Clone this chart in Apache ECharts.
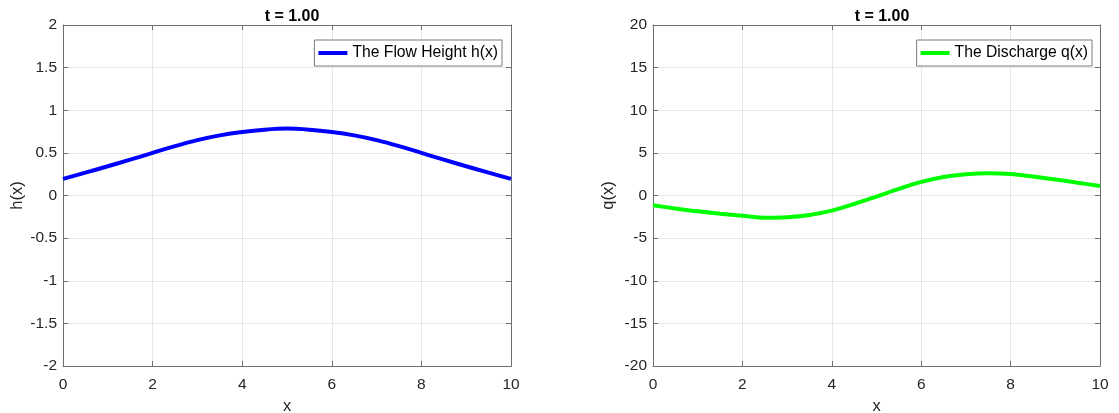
<!DOCTYPE html>
<html>
<head>
<meta charset="utf-8">
<title>t = 1.00</title>
<script src="https://cdn.jsdelivr.net/npm/echarts@6/dist/echarts.min.js"></script>
<style>
    html, body {
        margin: 0;
        padding: 0;
        background: #fff;
    }
    #chart {
        width: 1119px;
        height: 413px;
    }
</style>
</head>
<body>
<div id="chart"></div>
<script>
// sample positions along x (every 0.5)
var xs = [0, 0.5, 1, 1.5, 2, 2.5, 3, 3.5, 4, 4.5, 5, 5.5, 6, 6.5, 7, 7.5, 8, 8.5, 9, 9.5, 10];

// flow height h(x)
var hValues = [0.195, 0.268, 0.343, 0.42, 0.5, 0.58, 0.65, 0.705, 0.745, 0.772, 0.785,
    0.772, 0.745, 0.705, 0.65, 0.58, 0.5, 0.42, 0.343, 0.268, 0.195];

// discharge q(x)
var qValues = [-1.15, -1.52, -1.86, -2.14, -2.38, -2.6, -2.55, -2.28, -1.78, -1.0, -0.12,
    0.78, 1.6, 2.18, 2.5, 2.62, 2.52, 2.22, 1.88, 1.5, 1.12];

var titleText = "t = 1.00";
var hName = "The Flow Height h(x)";
var qName = "The Discharge q(x)";

function pairs(ys) {
    return xs.map(function (x, i) {
        return [x, ys[i]];
    });
}

var font = "'Liberation Sans', Arial, Helvetica, sans-serif";
var textColor = "#262626";
var boxColor = "#6e6e6e";
var gridColor = "#e6e6e6";

function xAxisPair(gridIndex) {
    return [
        {
            type: "value",
            gridIndex: gridIndex,
            min: 0,
            max: 10,
            interval: 2,
            name: "x",
            nameLocation: "middle",
            nameGap: 32,
            nameTextStyle: { color: textColor, fontSize: 16.5, fontFamily: font },
            axisLine: { show: true, onZero: false, lineStyle: { color: boxColor, width: 1 } },
            axisTick: { show: true, inside: true, length: 5, lineStyle: { color: boxColor } },
            axisLabel: { color: textColor, fontSize: 15.5, fontFamily: font, margin: 11 },
            splitLine: { show: true, lineStyle: { color: gridColor, width: 1 } }
        },
        {
            type: "value",
            gridIndex: gridIndex,
            position: "top",
            min: 0,
            max: 10,
            interval: 2,
            axisLine: { show: true, onZero: false, lineStyle: { color: boxColor, width: 1 } },
            axisTick: { show: true, inside: true, length: 5, lineStyle: { color: boxColor } },
            axisLabel: { show: false },
            splitLine: { show: false }
        }
    ];
}

function yAxisPair(gridIndex, name, min, max, step) {
    return [
        {
            type: "value",
            gridIndex: gridIndex,
            min: min,
            max: max,
            interval: step,
            name: name,
            nameLocation: "middle",
            nameGap: 36,
            nameTextStyle: { color: textColor, fontSize: 16.5, fontFamily: font },
            axisLine: { show: true, onZero: false, lineStyle: { color: boxColor, width: 1 } },
            axisTick: { show: true, inside: true, length: 5, lineStyle: { color: boxColor } },
            axisLabel: { color: textColor, fontSize: 15.5, fontFamily: font, margin: 6 },
            splitLine: { show: true, lineStyle: { color: gridColor, width: 1 } }
        },
        {
            type: "value",
            gridIndex: gridIndex,
            position: "right",
            min: min,
            max: max,
            interval: step,
            axisLine: { show: true, onZero: false, lineStyle: { color: boxColor, width: 1 } },
            axisTick: { show: true, inside: true, length: 5, lineStyle: { color: boxColor } },
            axisLabel: { show: false },
            splitLine: { show: false }
        }
    ];
}

function legendFor(name, right) {
    return {
        data: [name],
        right: right,
        top: 40,
        orient: "vertical",
        backgroundColor: "#fff",
        borderColor: "#7a7a7a",
        borderWidth: 1,
        borderRadius: 0,
        padding: [5, 4, 5, 4],
        icon: "rect",
        itemWidth: 29,
        itemHeight: 4,
        textStyle: { color: "#000", fontSize: 15.7, fontFamily: font }
    };
}

var chart = echarts.init(document.getElementById("chart"));

var options = {
    animation: false,
    backgroundColor: "#fff",
    title: [
        {
            text: titleText,
            left: 287,
            top: 4,
            textAlign: "center",
            textStyle: { color: "#000", fontSize: 16, fontWeight: "bold", fontFamily: font }
        },
        {
            text: titleText,
            left: 877,
            top: 4,
            textAlign: "center",
            textStyle: { color: "#000", fontSize: 16, fontWeight: "bold", fontFamily: font }
        }
    ],
    legend: [legendFor(hName, 617), legendFor(qName, 27)],
    grid: [
        { left: 63, right: 608, top: 25, bottom: 47, outerBoundsMode: "none" },
        { left: 653, right: 19, top: 25, bottom: 47, outerBoundsMode: "none" }
    ],
    xAxis: xAxisPair(0).concat(xAxisPair(1)),
    yAxis: yAxisPair(0, "h(x)", -2, 2, 0.5).concat(yAxisPair(1, "q(x)", -20, 20, 5)),
    series: [
        {
            name: hName,
            type: "line",
            xAxisIndex: 0,
            yAxisIndex: 0,
            data: pairs(hValues),
            smooth: 0.3,
            showSymbol: false,
            lineStyle: { color: "#0000ff", width: 4 },
            itemStyle: { color: "#0000ff" }
        },
        {
            name: qName,
            type: "line",
            xAxisIndex: 2,
            yAxisIndex: 2,
            data: pairs(qValues),
            smooth: 0.3,
            showSymbol: false,
            lineStyle: { color: "#00ff00", width: 4 },
            itemStyle: { color: "#00ff00" }
        }
    ]
};

chart.setOption(options, true);
</script>
</body>
</html>
